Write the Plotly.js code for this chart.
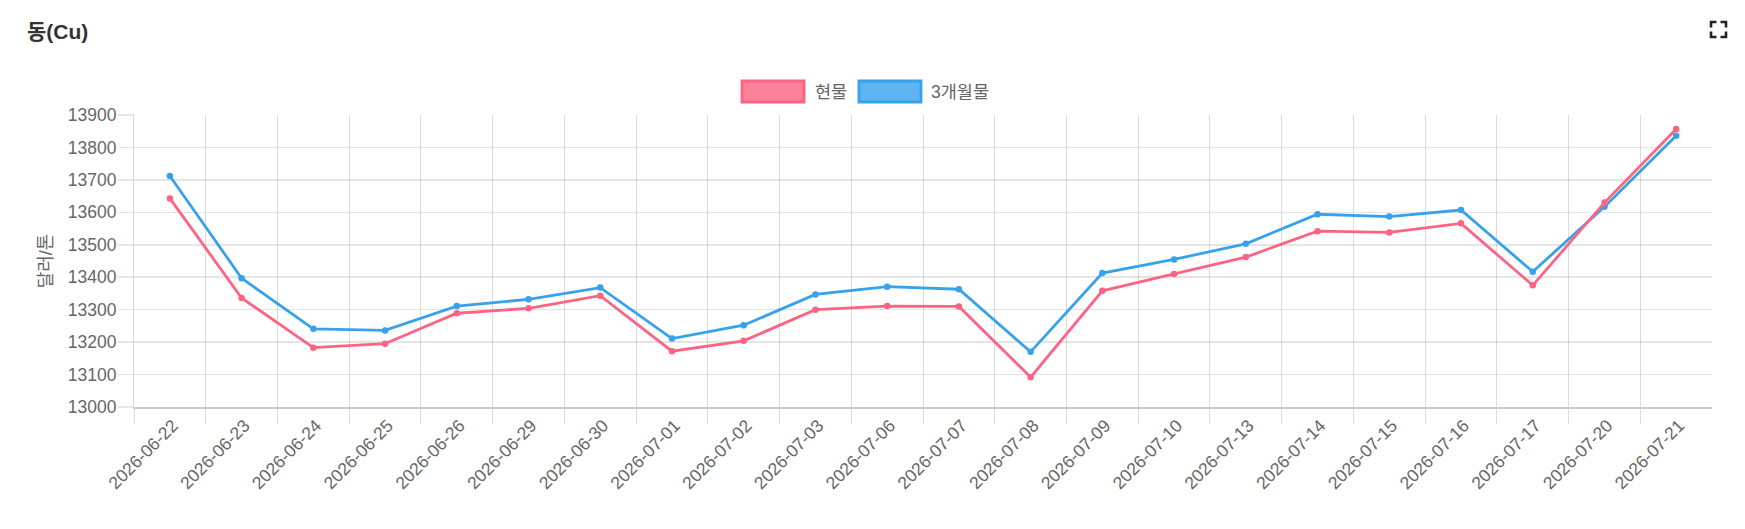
<!DOCTYPE html>
<html>
<head>
<meta charset="utf-8">
<script src="https://cdn.plot.ly/plotly-3.0.1.min.js"></script>
<style>
  html, body { margin: 0; padding: 0; background: #fff; }
  #chart { width: 1745px; height: 529px; }
</style>
</head>
<body>
<div id="chart"></div>
<script>
// ---- data ----
const dates = ['2026-06-22','2026-06-23','2026-06-24','2026-06-25','2026-06-26','2026-06-29','2026-06-30',
  '2026-07-01','2026-07-02','2026-07-03','2026-07-06','2026-07-07','2026-07-08','2026-07-09','2026-07-10',
  '2026-07-13','2026-07-14','2026-07-15','2026-07-16','2026-07-17','2026-07-20','2026-07-21'];
const spotName = '현물';
const spot = [13643,13336,13183,13195,13289,13304,13343,13172,13204,13300,13311,13310,13092,13358,13410,
  13462,13542,13538,13566,13375,13630,13857];
const threeMonthName = '3개월물';
const threeMonth = [13712,13397,13241,13236,13311,13332,13368,13211,13252,13347,13371,13363,13170,13413,13455,
  13503,13594,13587,13607,13417,13617,13836];
const yTicks = [13000,13100,13200,13300,13400,13500,13600,13700,13800,13900];
const chartTitle = '동(Cu)';
const yTitle = '달러/톤';

// ---- layout geometry (pixels) ----
const W = 1745, H = 529;
const M = { l: 134, r: 33, t: 115, b: 122 };
const PW = W - M.l - M.r, PH = H - M.t - M.b;
const px = x => (x - M.l) / PW;
const py = y => (H - M.b - y) / PH;

const PINK = '#FF6384', BLUE = '#36A2EB';
const FONT = '"Liberation Sans", Arial, "Noto Sans CJK KR", sans-serif';

const traces = [
  { x: dates, y: threeMonth, name: threeMonthName, type: 'scatter', mode: 'lines+markers',
    line: { color: BLUE, width: 2.8 }, marker: { color: BLUE, size: 6.5 }, hoverinfo: 'skip' },
  { x: dates, y: spot, name: spotName, type: 'scatter', mode: 'lines+markers',
    line: { color: PINK, width: 2.8 }, marker: { color: PINK, size: 6.5 }, hoverinfo: 'skip' }
];

// legend drawn as boxes + text (Chart.js style)
const legendItems = [
  { name: spotName, color: PINK, fill: 'rgba(255,99,132,0.8)', box: [742, 804], text: 813 },
  { name: threeMonthName, color: BLUE, fill: 'rgba(54,162,235,0.8)', box: [859, 921], text: 929 }
];
const shapes = [];
const annotations = [];
legendItems.forEach(it => {
  shapes.push({ type: 'rect', xref: 'paper', yref: 'paper',
    x0: px(it.box[0]), x1: px(it.box[1]), y0: py(102), y1: py(81),
    fillcolor: it.fill, line: { color: it.color, width: 2.8 } });
  annotations.push({ xref: 'paper', yref: 'paper', x: px(it.text), y: py(91.5),
    xanchor: 'left', yanchor: 'middle', showarrow: false, text: it.name,
    font: { family: FONT, size: 17.5, color: '#666' } });
});

// fullscreen icon (top-right)
const ic = { x0: 1711, x1: 1726, y0: 22, y1: 37, a: 5.5 };
const iconPaths = [
  `M${px(ic.x0)},${py(ic.y0 + ic.a)} L${px(ic.x0)},${py(ic.y0)} L${px(ic.x0 + ic.a)},${py(ic.y0)}`,
  `M${px(ic.x1 - ic.a)},${py(ic.y0)} L${px(ic.x1)},${py(ic.y0)} L${px(ic.x1)},${py(ic.y0 + ic.a)}`,
  `M${px(ic.x0)},${py(ic.y1 - ic.a)} L${px(ic.x0)},${py(ic.y1)} L${px(ic.x0 + ic.a)},${py(ic.y1)}`,
  `M${px(ic.x1 - ic.a)},${py(ic.y1)} L${px(ic.x1)},${py(ic.y1)} L${px(ic.x1)},${py(ic.y1 - ic.a)}`
];
iconPaths.forEach(p => shapes.push({ type: 'path', xref: 'paper', yref: 'paper', path: p,
  line: { color: '#222', width: 2.6 } }));

const layout = {
  width: W, height: H,
  margin: M,
  paper_bgcolor: '#fff', plot_bgcolor: '#fff',
  showlegend: false,
  font: { family: FONT, color: '#666', size: 17 },
  title: { text: chartTitle, x: 27 / W, xanchor: 'left', xref: 'container',
    y: 1 - 32 / H, yanchor: 'middle', yref: 'container',
    font: { family: FONT, size: 21, color: '#333', weight: 'bold' } },
  xaxis: {
    type: 'category', range: [-0.5, dates.length - 0.501],
    tickson: 'boundaries', ticks: 'outside', ticklen: 15, tickcolor: 'rgba(0,0,0,0.14)', tickwidth: 1,
    showgrid: true, gridcolor: 'rgba(0,0,0,0.14)', gridwidth: 1,
    showline: true, linecolor: 'rgba(0,0,0,0.2)', linewidth: 1.5,
    tickangle: -45, tickfont: { family: FONT, size: 17.5, color: '#666' },
    ticklabelstandoff: 0, ticklabelshift: 3,
    fixedrange: true
  },
  yaxis: {
    range: [13000, 13900], tickvals: yTicks, tickformat: 'd',
    ticks: 'outside', ticklen: 15, tickcolor: 'rgba(0,0,0,0.1)', tickwidth: 1.5,
    showgrid: true, gridcolor: 'rgba(0,0,0,0.1)', gridwidth: 1.5,
    showline: true, linecolor: 'rgba(0,0,0,0.16)', linewidth: 1,
    zeroline: false,
    ticklabelstandoff: -2,
    tickfont: { family: FONT, size: 17.5, color: '#666' },
    title: { text: yTitle, font: { family: FONT, size: 18, color: '#666' }, standoff: 10 },
    automargin: true,
    fixedrange: true
  },
  shapes: shapes,
  annotations: annotations
};

Plotly.newPlot('chart', traces, layout, { displayModeBar: false, staticPlot: true });
</script>
</body>
</html>
